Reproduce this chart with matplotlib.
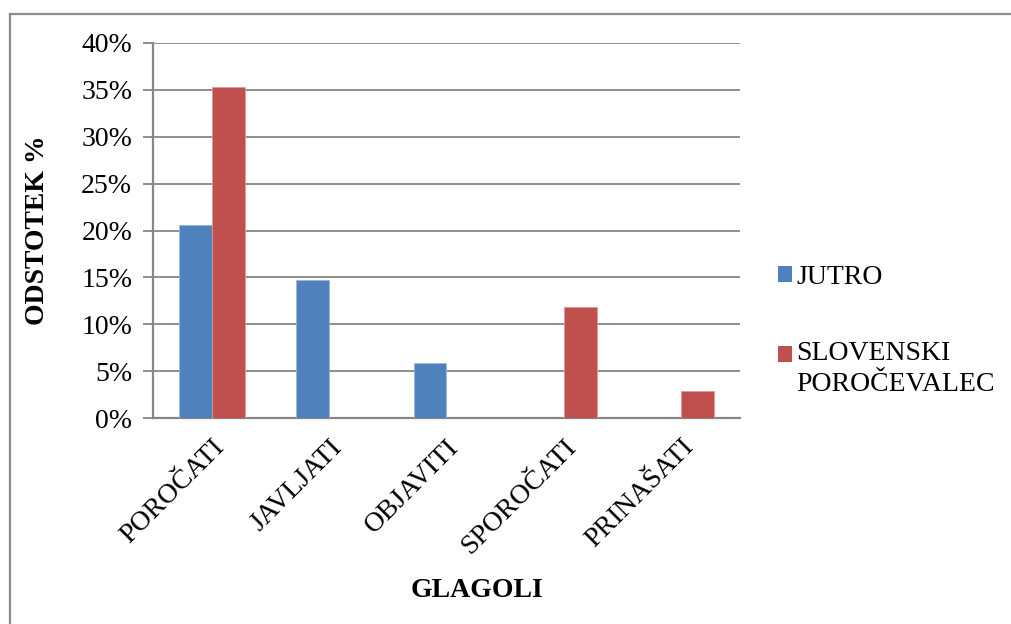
"""
Delež glagolov po časopisih (Jutro / Slovenski poročevalec)
"""
import matplotlib
matplotlib.use('Agg')
import matplotlib.pyplot as plt
from matplotlib.lines import Line2D
from matplotlib.patches import Rectangle
from matplotlib.legend_handler import HandlerPatch
from matplotlib.ticker import PercentFormatter
import numpy as np

CATEGORIES = ['POROČATI', 'JAVLJATI', 'OBJAVITI', 'SPOROČATI', 'PRINAŠATI']
JUTRO = [20.6, 14.7, 5.9, 0.0, 0.0]
SLOVENSKI = [35.3, 0.0, 0.0, 11.8, 2.9]
SERIES_LABELS = ['JUTRO', 'SLOVENSKI\nPOROČEVALEC']

BLUE = '#4F81BD'
RED = '#C0504D'
GRID = '#868686'
FONT = 'Liberation Serif'
FS = 20
LINESPACING = 1.3

plt.rcParams['font.family'] = [FONT, 'DejaVu Serif']

fig = plt.figure(figsize=(10.11, 6.24), dpi=100)
ax = fig.add_axes([153/1011, 1 - 418/624, 587/1011, 375/624])

x = np.arange(len(CATEGORIES))
w = 0.28
b1 = ax.bar(x - w/2, JUTRO, w, color=BLUE, edgecolor='#9DB7DA', linewidth=0.6,
            label=SERIES_LABELS[0], zorder=3)
b2 = ax.bar(x + w/2, SLOVENSKI, w, color=RED, edgecolor='#DE9A98', linewidth=0.6,
            label=SERIES_LABELS[1], zorder=3)

ax.set_xlim(-0.5, len(CATEGORIES) - 0.5)
ax.set_ylim(0, 40)
ax.set_yticks(np.arange(0, 41, 5))
ax.yaxis.set_major_formatter(PercentFormatter(decimals=0))
ax.grid(axis='y', color=GRID, linewidth=1.3, zorder=0)
ax.set_axisbelow(True)

for s in ['top', 'right']:
    ax.spines[s].set_visible(False)
for s in ['left', 'bottom']:
    ax.spines[s].set_color(GRID)
    ax.spines[s].set_linewidth(1.6)

ax.tick_params(axis='y', length=7, width=1.3, color=GRID, pad=8, labelsize=FS)
ax.tick_params(axis='x', length=0, pad=12, labelsize=FS)
ax.set_xticks(x)
ax.set_xticklabels(CATEGORIES, rotation=45, ha='right', va='top',
                   rotation_mode='anchor')

ax.set_xlabel('GLAGOLI', fontsize=FS, fontweight='bold')
ax.xaxis.set_label_coords((477 - 153) / 587, (418 - 578) / 375)
ax.set_ylabel('ODSTOTEK %', fontsize=FS, fontweight='bold')
ax.yaxis.set_label_coords((50 - 153) / 587, 0.5)


def first_line_patch(legend, orig_handle, xdescent, ydescent, width, height, fontsize):
    # put the square next to the first line of a two-line label
    shift = 0.5 * LINESPACING * fontsize * 0.82
    return Rectangle((-xdescent, -ydescent + shift), width, height)


h1, h2 = b1.patches[0], b2.patches[0]
leg = ax.legend([h1, h2], SERIES_LABELS,
                loc='upper left', bbox_to_anchor=(764/1011, 1 - 251/624),
                bbox_transform=fig.transFigure, frameon=False, fontsize=FS,
                handlelength=0.5, handleheight=0.5, handletextpad=0.15,
                labelspacing=1.85, borderpad=0,
                handler_map={h2: HandlerPatch(patch_func=first_line_patch)})
for t in leg.get_texts():
    t.set_linespacing(LINESPACING)
for p in leg.get_patches():
    p.set_linewidth(0)

# chart frame (cropped on right and bottom)
fig.add_artist(Line2D([10/1011, 1], [1 - 14/624, 1 - 14/624],
                      transform=fig.transFigure, color='#8C8C8C', lw=1.6))
fig.add_artist(Line2D([10/1011, 10/1011], [0, 1 - 14/624],
                      transform=fig.transFigure, color='#8C8C8C', lw=1.6))

fig.savefig('out.png', dpi=100)
